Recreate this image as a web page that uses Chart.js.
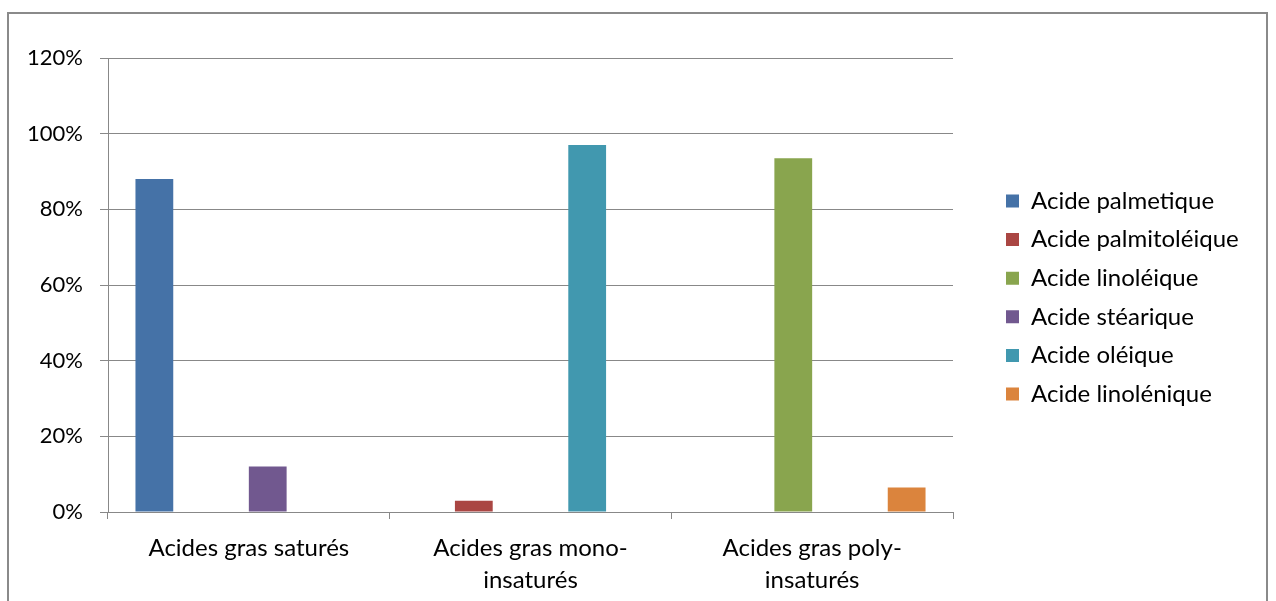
<!DOCTYPE html>
<html>
<head>
<meta charset="utf-8">
<script src="https://cdn.jsdelivr.net/npm/chart.js@4/dist/chart.umd.min.js"></script>
<style>
  html, body { margin: 0; padding: 0; background: #fff; overflow: hidden; }
  #wrap { position: relative; width: 1276px; height: 601px; }
  #frame { position: absolute; left: 7px; top: 12px; width: 1261px; height: 620px;
           border: 2px solid #8a8a8a; box-sizing: border-box; }
  canvas { position: absolute; left: 0; top: 0; }
</style>
</head>
<body>
<div id="wrap">
  <div id="frame"></div>
  <canvas id="barChart" width="1276" height="601"></canvas>
</div>
<script>
const categories = [
    'Acides gras saturés',
    ['Acides gras mono-', 'insaturés'],
    ['Acides gras poly-', 'insaturés']
]
const seriesNames = ['Acide palmetique', 'Acide palmitoléique', 'Acide linoléique',
    'Acide stéarique', 'Acide oléique', 'Acide linolénique']
const palmetique = [88, null, null]
const palmitoleique = [null, 3, null]
const linoleique = [null, null, 93.5]
const stearique = [12, null, null]
const oleique = [null, 97, null]
const linolenique = [null, null, 6.5]
const yTicks = [0, 20, 40, 60, 80, 100, 120]

const seriesValues = [palmetique, palmitoleique, linoleique, stearique, oleique, linolenique]
const colors = ['#4572A7', '#AA4643', '#89A54E', '#71588F', '#4198AF', '#DB843D']

const fontFamily = 'Lato, "Liberation Sans", sans-serif'
const labelSize = 24
const tickSize = 22
const gridColor = '#888888'

// legend geometry: items start at x=1006, plot ends at x=953
const legendPad = 14.6
const legendBox = 13
const legendLeft = 1006 - legendPad
const measureCtx = document.createElement('canvas').getContext('2d')
measureCtx.font = 'normal ' + labelSize + 'px ' + fontFamily
const widestName = Math.max(...seriesNames.map(n => measureCtx.measureText(n).width))
const legendWidth = legendPad + legendBox + labelSize / 2 + widestName + 10
const rightPad = Math.max(0, 1276 - legendLeft - legendWidth)

Chart.defaults.font.family = fontFamily
Chart.defaults.color = '#000'
Chart.defaults.animation = false

new Chart('barChart', {
    type: 'bar',
    data: {
        labels: categories,
        datasets: seriesNames.map((name, i) => ({
            label: name,
            data: seriesValues[i],
            backgroundColor: colors[i],
            categoryPercentage: 0.805,
            barPercentage: 1
        }))
    },
    options: {
        responsive: false,
        layout: {
            padding: { left: 8, top: 58, right: rightPad, bottom: 0 }
        },
        plugins: {
            tooltip: { enabled: false },
            legend: {
                position: 'right',
                fullSize: false,
                maxWidth: 400,
                title: {
                    display: true,
                    text: ' ',
                    font: { size: 10, lineHeight: 1.2 },
                    padding: { top: 13, bottom: 0 }
                },
                labels: {
                    boxWidth: legendBox,
                    boxHeight: legendBox,
                    padding: legendPad,
                    color: '#000',
                    font: { size: labelSize }
                }
            }
        },
        scales: {
            x: {
                grid: {
                    drawOnChartArea: false,
                    drawTicks: true,
                    tickLength: 7,
                    color: gridColor
                },
                border: { color: gridColor },
                ticks: {
                    padding: 13,
                    maxRotation: 0,
                    autoSkip: false,
                    font: { size: labelSize, lineHeight: 32 / labelSize }
                },
                afterFit: scale => { scale.height = 89 }
            },
            y: {
                min: 0,
                max: 120,
                afterBuildTicks: scale => { scale.ticks = yTicks.map(v => ({ value: v })) },
                grid: {
                    color: gridColor,
                    tickLength: 8
                },
                border: { color: gridColor },
                ticks: {
                    padding: 17,
                    font: { size: tickSize },
                    callback: v => v + '%'
                },
                afterFit: scale => { scale.width = 100 }
            },
            // empty axis only used to leave room between the plot and the legend
            gap: {
                type: 'linear',
                position: 'right',
                grid: { display: false },
                border: { display: false },
                ticks: { display: false },
                afterFit: scale => { scale.width = legendLeft - 953 }
            }
        }
    }
})
</script>
</body>
</html>
